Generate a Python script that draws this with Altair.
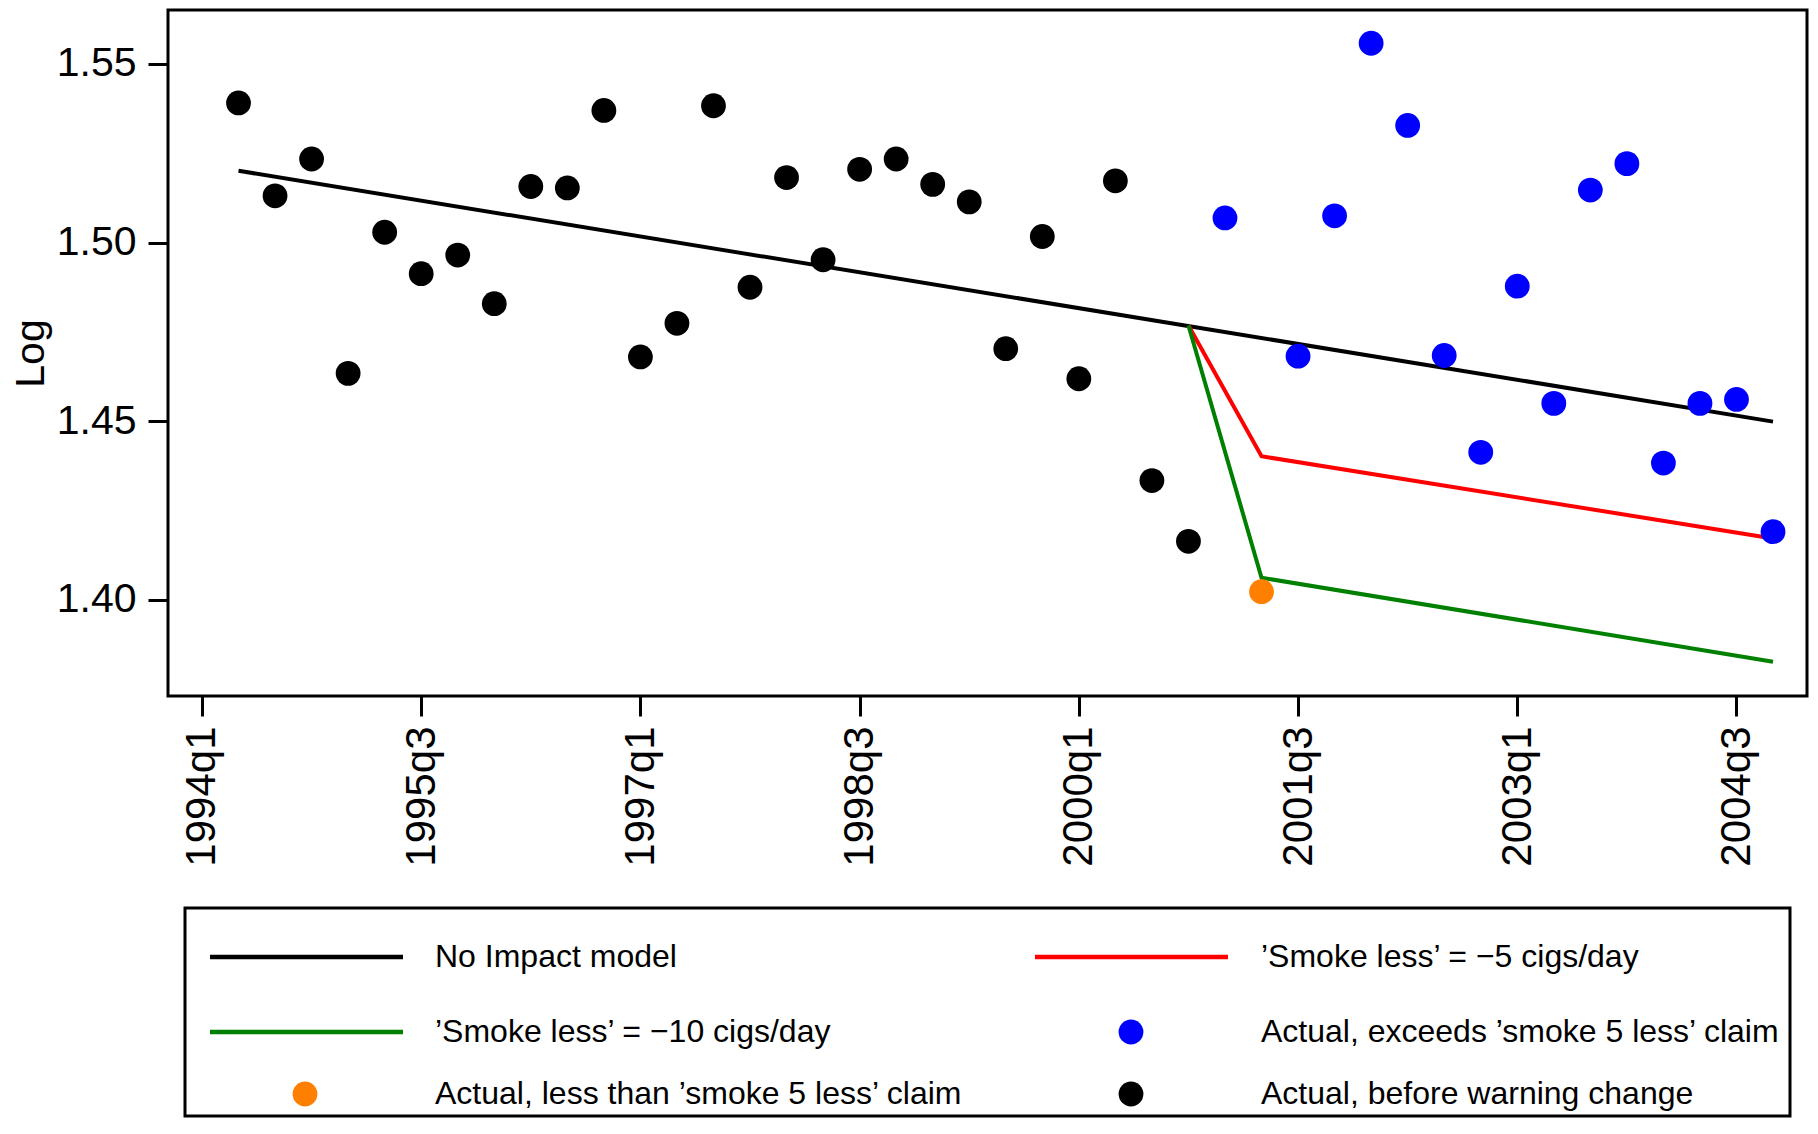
import altair as alt
import pandas as pd

# ---------------- data ----------------
before_q = ["1994q2", "1994q3", "1994q4", "1995q1", "1995q2", "1995q3", "1995q4",
            "1996q1", "1996q2", "1996q3", "1996q4", "1997q1", "1997q2", "1997q3",
            "1997q4", "1998q1", "1998q2", "1998q3", "1998q4", "1999q1", "1999q2",
            "1999q3", "1999q4", "2000q1", "2000q2", "2000q3", "2000q4"]
before_v = [1.5391, 1.5131, 1.5234, 1.4634, 1.5029, 1.4913, 1.4965,
            1.4829, 1.5157, 1.5153, 1.5370, 1.4680, 1.4774, 1.5383,
            1.4875, 1.5182, 1.4952, 1.5205, 1.5234, 1.5163, 1.5114,
            1.4703, 1.5017, 1.4619, 1.5173, 1.4334, 1.4164]

exceed_q = ["2001q1", "2001q3", "2001q4", "2002q1", "2002q2", "2002q3", "2002q4",
            "2003q1", "2003q2", "2003q3", "2003q4", "2004q1", "2004q2", "2004q3", "2004q4"]
exceed_v = [1.5069, 1.4682, 1.5075, 1.5558, 1.5328, 1.4684, 1.4413,
            1.4878, 1.4550, 1.5147, 1.5221, 1.4383, 1.4550, 1.4561, 1.4191]

less_q = ["2001q2"]
less_v = [1.4023]

noimpact_q = ["1994q2", "2004q4"]
noimpact_v = [1.5201, 1.4499]
smoke5_q = ["2000q4", "2001q2", "2004q4"]
smoke5_v = [1.4768, 1.4402, 1.4172]
smoke10_q = ["2000q4", "2001q2", "2004q4"]
smoke10_v = [1.4768, 1.4062, 1.3827]

x_tick_labels = ["1994q1", "1995q3", "1997q1", "1998q3", "2000q1", "2001q3", "2003q1", "2004q3"]
y_tick_values = [1.40, 1.45, 1.50, 1.55]

line_names = ["No Impact model", "’Smoke less’ = −5 cigs/day", "’Smoke less’ = −10 cigs/day"]
point_names = ["Actual, exceeds ’smoke 5 less’ claim", "Actual, less than ’smoke 5 less’ claim",
               "Actual, before warning change"]
line_colors = ["#000000", "#ff0000", "#008000"]
point_colors = ["#0000ff", "#ff8000", "#000000"]

# legend order (row-major, two columns)
legend_labels = ["No Impact model", "’Smoke less’ = −5 cigs/day",
                 "’Smoke less’ = −10 cigs/day", "Actual, exceeds ’smoke 5 less’ claim",
                 "Actual, less than ’smoke 5 less’ claim", "Actual, before warning change"]


def qidx(s):
    return (int(s[:4]) - 1994) * 4 + int(s[-1]) - 1


pts = pd.DataFrame(
    [{"q": q, "t": qidx(q), "v": v, "group": point_names[2]} for q, v in zip(before_q, before_v)]
    + [{"q": q, "t": qidx(q), "v": v, "group": point_names[0]} for q, v in zip(exceed_q, exceed_v)]
    + [{"q": q, "t": qidx(q), "v": v, "group": point_names[1]} for q, v in zip(less_q, less_v)]
)
lines = pd.DataFrame(
    [{"q": q, "t": qidx(q), "v": v, "series": line_names[0]} for q, v in zip(noimpact_q, noimpact_v)]
    + [{"q": q, "t": qidx(q), "v": v, "series": line_names[1]} for q, v in zip(smoke5_q, smoke5_v)]
    + [{"q": q, "t": qidx(q), "v": v, "series": line_names[2]} for q, v in zip(smoke10_q, smoke10_v)]
)

FONT = "Liberation Sans"
tick_idx = [qidx(q) for q in x_tick_labels]
label_expr = "[" + ",".join("'%s'" % s for s in x_tick_labels) + "][indexof([" + \
    ",".join(str(i) for i in tick_idx) + "], datum.value)]"

x_scale = alt.Scale(domain=[-0.93, 43.93], nice=False, zero=False)
y_scale = alt.Scale(domain=[1.3731, 1.5651], nice=False, zero=False)

x_axis = alt.Axis(values=tick_idx, labelExpr=label_expr, title=None, labelAngle=270,
                  tickSize=20, tickWidth=3, tickColor="black", labelPadding=10,
                  labelFontSize=42, labelFont=FONT, labelColor="black",
                  domain=False, grid=False, labelFlush=False, labelOverlap=False)
y_axis = alt.Axis(values=y_tick_values, format=".2f", title="Log", tickSize=20, tickWidth=3,
                  tickColor="black", labelPadding=12, labelFontSize=41, labelFont=FONT,
                  labelColor="black", titleFontSize=41, titleFont=FONT, titleColor="black",
                  titleFontWeight="normal", titlePadding=4, domain=False, grid=False,
                  labelFlush=False, labelOverlap=False)

line_layer = alt.Chart(lines).mark_line(strokeWidth=4).encode(
    x=alt.X("t:Q", scale=x_scale, axis=x_axis),
    y=alt.Y("v:Q", scale=y_scale, axis=y_axis),
    color=alt.Color("series:N", scale=alt.Scale(domain=line_names, range=line_colors), legend=None),
    detail="series:N",
    order="t:Q",
)
point_layer = alt.Chart(pts).mark_circle(size=615, opacity=1).encode(
    x=alt.X("t:Q", scale=x_scale, axis=x_axis),
    y=alt.Y("v:Q", scale=y_scale, axis=y_axis),
    color=alt.Color("group:N", scale=alt.Scale(domain=point_names, range=point_colors), legend=None),
)

plot = alt.layer(line_layer, point_layer).resolve_scale(color="independent").properties(
    width=1639, height=686
)

# ---------------- manual legend ----------------
LW, LH = 1605, 208
col_line_x = [25, 850]
col_line_x2 = [218, 1043]
col_dot_x = [120, 946]
col_text_x = [250, 1076]
row_y = [49, 124, 186]
all_names = line_names + point_names
all_colors = line_colors + point_colors
leg_rows = []
for i, lab in enumerate(legend_labels):
    r, c = i // 2, i % 2
    kind = "line" if lab in line_names else "dot"
    leg_rows.append({"label": lab, "kind": kind, "xs": col_line_x[c], "xs2": col_line_x2[c],
                     "xd": col_dot_x[c], "xt": col_text_x[c], "y": row_y[r]})
leg = pd.DataFrame(leg_rows)

lx = alt.Scale(domain=[0, LW], nice=False, zero=False)
ly = alt.Scale(domain=[0, LH], nice=False, zero=False, reverse=True)
leg_color = alt.Color("label:N", scale=alt.Scale(domain=all_names, range=all_colors), legend=None)

leg_lines = alt.Chart(leg).transform_filter(alt.datum.kind == "line").mark_rule(strokeWidth=4.5).encode(
    x=alt.X("xs:Q", scale=lx, axis=None), x2="xs2:Q",
    y=alt.Y("y:Q", scale=ly, axis=None), color=leg_color)
leg_dots = alt.Chart(leg).transform_filter(alt.datum.kind == "dot").mark_circle(size=615, opacity=1).encode(
    x=alt.X("xd:Q", scale=lx, axis=None),
    y=alt.Y("y:Q", scale=ly, axis=None), color=leg_color)
leg_text = alt.Chart(leg).mark_text(align="left", baseline="middle", fontSize=32, font=FONT,
                                    color="black").encode(
    x=alt.X("xt:Q", scale=lx, axis=None),
    y=alt.Y("y:Q", scale=ly, axis=None), text="label:N")

legend = alt.layer(leg_lines, leg_dots, leg_text).properties(width=LW, height=LH)

chart = alt.vconcat(plot, legend, spacing=212, center=True, bounds="flush").configure(
    font=FONT,
    padding={"left": 0, "top": 0, "right": 0, "bottom": 0},
).configure_view(stroke="black", strokeWidth=3)

chart.save("out.html", embed_options={"renderer": "svg", "actions": False})
